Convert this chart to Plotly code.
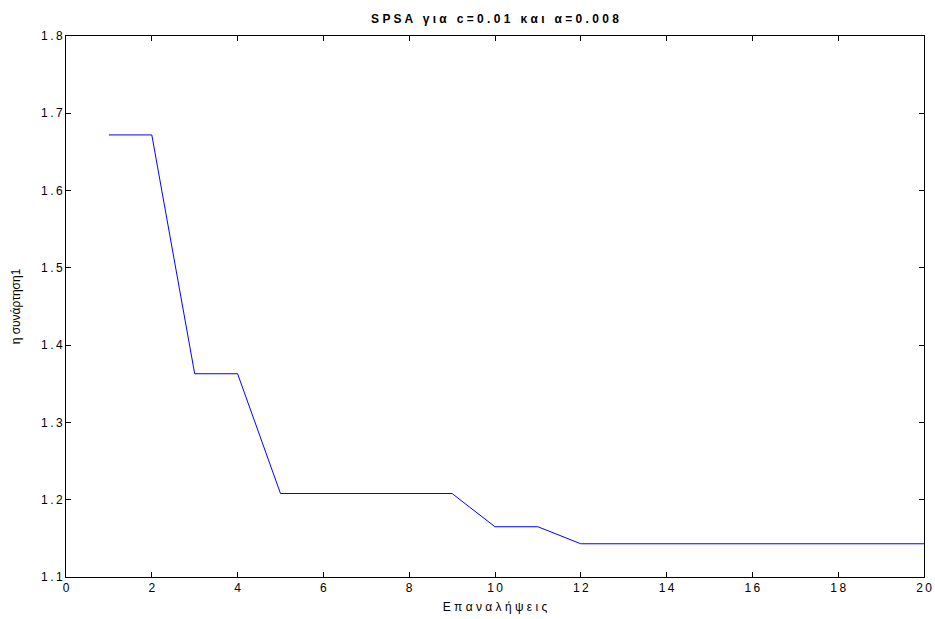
import plotly.graph_objects as go

TS = "\u2009"  # thin space for letter tracking

def spaced(s, sep=TS):
    return sep.join(list(s))

iterations = list(range(1, 21))
values = [1.672, 1.672, 1.363, 1.363, 1.208, 1.208, 1.208, 1.208, 1.208,
          1.165, 1.165, 1.143, 1.143, 1.143, 1.143, 1.143, 1.143, 1.143, 1.143, 1.143]

x_ticks = [0, 2, 4, 6, 8, 10, 12, 14, 16, 18, 20]
x_ticklabels = ["0", "2", "4", "6", "8", "10", "12", "14", "16", "18", "20"]
y_ticks = [1.1, 1.2, 1.3, 1.4, 1.5, 1.6, 1.7, 1.8]
y_ticklabels = ["1.1", "1.2", "1.3", "1.4", "1.5", "1.6", "1.7", "1.8"]

title_text = "SPSA για c=0.01 και α=0.008"
x_title = "Επαναλήψεις"
y_title = "η συνάρτηση1"

fig = go.Figure()
fig.add_trace(go.Scatter(x=iterations, y=values, mode="lines",
                         line=dict(color="#0000ff", width=1), showlegend=False))

axis_common = dict(showline=True, linecolor="black", linewidth=1, mirror="ticks",
                   ticks="inside", ticklen=5, tickcolor="black", showgrid=False,
                   zeroline=False, automargin=False, ticklabeloverflow="allow",
                   tickfont=dict(family="Liberation Sans, Arial", size=12, color="black"))

fig.update_layout(
    width=935, height=619,
    margin=dict(l=66, r=11, t=36, b=42),
    paper_bgcolor="white", plot_bgcolor="white",
    font=dict(family="Liberation Sans, Arial", color="black"),
    title=dict(text="<b>" + spaced(title_text, " ") + "</b>", xref="paper", x=0.5, xanchor="center",
               y=1 - 19 / 619, yanchor="middle",
               font=dict(size=12, family="Liberation Sans, Arial", color="black")),
    xaxis=dict(range=[0, 20], tickvals=x_ticks, ticktext=[spaced(t) for t in x_ticklabels],
               title=dict(text=spaced(x_title, " "), font=dict(size=12), standoff=8), **axis_common),
    yaxis=dict(range=[1.1, 1.8], tickvals=y_ticks, ticktext=[spaced(t) for t in y_ticklabels],
               title=dict(text=y_title, font=dict(size=12), standoff=17), **axis_common),
)

fig.write_html("out.html")
